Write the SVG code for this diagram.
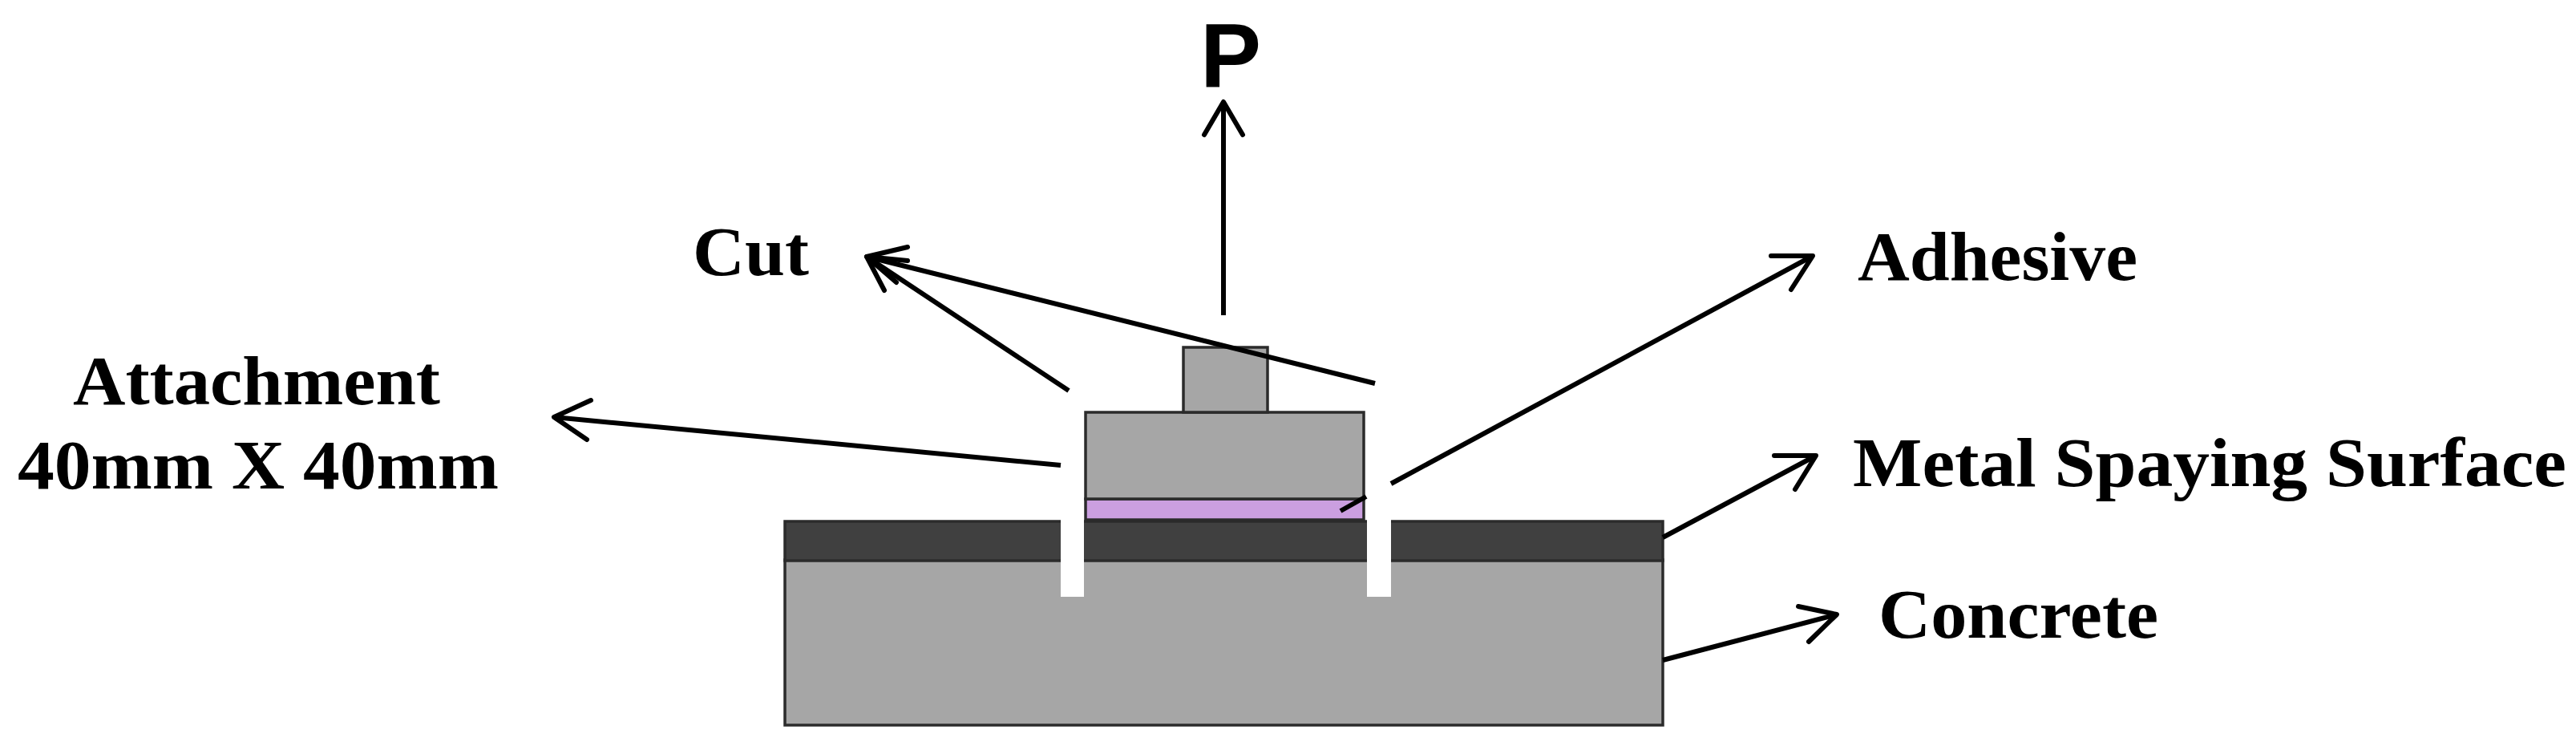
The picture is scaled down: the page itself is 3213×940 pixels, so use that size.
<svg xmlns="http://www.w3.org/2000/svg" width="3213" height="940" viewBox="0 0 3213 940">
<style>
.lbl{font-family:"Liberation Serif","Times New Roman",serif;font-weight:700;font-size:86px;fill:#000}
.p{font-family:"Liberation Sans",Arial,sans-serif;font-weight:700;font-size:114px;fill:#000}
.b{stroke:#2b2b2b;stroke-width:3.5}
.g{fill:#a6a6a6}
.c{stroke:#000;stroke-width:6;fill:none;stroke-linecap:round;stroke-linejoin:round}
.t{stroke:#000;stroke-width:6;fill:none}
</style>
<rect width="3213" height="940" fill="#fff"/>
<g id="concrete"><rect class="g b" x="979" y="698" width="1095" height="206"/></g>
<g id="metal-surface"><rect class="b" fill="#404040" x="979" y="650" width="1095" height="49"/></g>
<g id="adhesive"><rect class="b" fill="#cb9fe0" x="1354" y="622" width="347" height="26"/></g>
<g id="attachment"><rect class="g b" x="1354" y="514" width="347" height="108"/></g>
<g id="stud"><rect class="g b" x="1476" y="433" width="105" height="81"/></g>
<g id="connectors">
<path class="t" d="M1526 393V127"/><path class="c" d="M1502 168L1526 127L1550 168"/>
<path class="t" d="M1333 487L1081 320"/><path class="t" d="M1715 478L1081 320"/>
<path class="c" d="M1103 362L1081 320L1132 308"/>
<path class="c" d="M1118 352L1081 320L1132 325"/>
<path class="t" d="M1323 580L691 520"/><path class="c" d="M737 499L691 520L732 548"/>
<path class="t" d="M1735 603L2261 319"/><path class="c" d="M2209 319L2261 319L2234 361"/>
<path class="t" d="M1672 637L1704 619"/>
<path class="t" d="M2074 670L2265 568"/><path class="c" d="M2213 568L2265 568L2239 610"/>
<path class="t" d="M2074 823L2291 766"/><path class="c" d="M2243 756L2291 766L2256 800"/>
</g>
<g id="cuts">
<rect fill="#fff" x="1323" y="648" width="29" height="96"/>
<rect fill="#fff" x="1705" y="648" width="30" height="96"/>
</g>
<g id="labels">
<text class="p" x="1497" y="108">P</text>
<text class="lbl" x="864" y="343" textLength="145" lengthAdjust="spacingAndGlyphs">Cut</text>
<text class="lbl" x="91" y="504" textLength="458" lengthAdjust="spacingAndGlyphs">Attachment</text>
<text class="lbl" x="22" y="609" textLength="600" lengthAdjust="spacingAndGlyphs">40mm X 40mm</text>
<text class="lbl" x="2317" y="349" textLength="349" lengthAdjust="spacingAndGlyphs">Adhesive</text>
<text class="lbl" x="2311" y="606" textLength="890" lengthAdjust="spacingAndGlyphs">Metal Spaying Surface</text>
<text class="lbl" x="2343" y="795" textLength="349" lengthAdjust="spacingAndGlyphs">Concrete</text>
</g>
</svg>
